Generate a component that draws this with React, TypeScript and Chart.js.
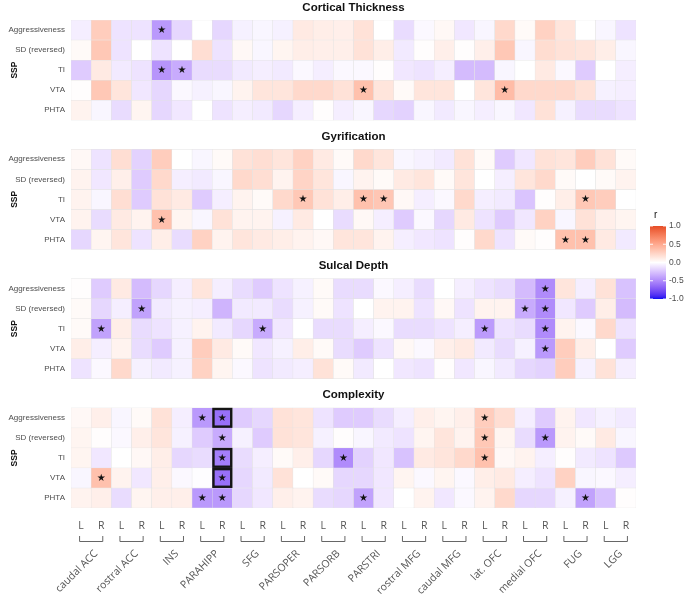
import React, { useEffect, useRef } from "react";
import { Chart, registerables } from "chart.js";

Chart.register(...registerables);

// ---------------- DATA ----------------
const PANELS = ["Cortical Thickness", "Gyrification", "Sulcal Depth", "Complexity"];
const SSP_ROWS = ["Aggressiveness", "SD (reversed)", "TI", "VTA", "PHTA"];
const REGIONS = [
  "caudal ACC", "rostral ACC", "INS", "PARAHIPP", "SFG", "PARSOPER", "PARSORB",
  "PARSTRI", "rostral MFG", "caudal MFG", "lat. OFC", "medial OFC", "FUG", "LGG",
];
const SIDES = ["L", "R"];
const COLUMNS = REGIONS.flatMap(() => SIDES);

// correlation r, rows = SSP_ROWS, columns = REGIONS x (L, R)
const corticalThickness = [
  [-0.07, 0.29, -0.12, -0.12, -0.44, -0.17, 0.0, -0.17, -0.06, -0.04, -0.06, 0.12, 0.1, 0.09, 0.17, 0.0, -0.15, -0.03, 0.04, -0.1, -0.04, 0.22, 0.03, 0.26, 0.15, 0.0, -0.04, -0.12],
  [0.03, 0.32, -0.12, 0.0, -0.12, 0.0, 0.19, -0.12, 0.04, -0.04, 0.06, 0.1, 0.09, 0.09, 0.17, 0.1, -0.09, 0.01, 0.09, 0.01, 0.09, 0.32, -0.04, 0.2, 0.17, 0.15, 0.1, -0.04],
  [-0.22, 0.12, -0.09, -0.12, -0.46, -0.36, -0.15, -0.15, -0.09, -0.07, -0.09, -0.03, -0.07, -0.03, -0.03, 0.01, -0.1, -0.12, -0.07, -0.29, -0.29, -0.04, 0.0, 0.12, -0.03, -0.22, 0.0, -0.07],
  [0.01, 0.32, 0.15, -0.1, -0.17, -0.03, -0.06, -0.04, 0.07, 0.15, 0.15, 0.22, 0.22, 0.17, 0.36, 0.15, 0.03, 0.15, 0.15, 0.0, 0.15, 0.39, 0.22, 0.22, 0.22, 0.17, -0.06, -0.07],
  [0.07, -0.04, -0.15, 0.06, -0.17, -0.1, 0.0, -0.12, -0.07, -0.09, -0.17, -0.07, 0.01, -0.07, -0.04, -0.17, -0.19, -0.04, -0.09, -0.04, -0.07, -0.04, -0.1, 0.17, -0.06, -0.15, -0.15, -0.12],
];
const gyrification = [
  [0.04, -0.12, 0.19, -0.19, 0.29, 0.0, -0.04, 0.03, 0.17, 0.19, 0.15, 0.26, 0.12, 0.03, 0.22, 0.15, -0.04, -0.06, -0.09, 0.17, 0.03, -0.22, -0.1, 0.17, 0.15, 0.29, 0.17, 0.03],
  [0.07, -0.1, 0.09, -0.22, 0.22, -0.07, -0.09, -0.04, 0.22, 0.19, 0.07, 0.25, 0.15, -0.04, 0.07, 0.03, 0.12, 0.15, 0.03, 0.15, 0.0, -0.07, 0.15, 0.22, 0.03, 0.0, 0.03, 0.07],
  [0.07, -0.04, 0.19, -0.22, 0.17, 0.12, -0.22, -0.07, 0.07, 0.03, 0.22, 0.32, 0.17, 0.1, 0.36, 0.33, 0.04, -0.07, -0.03, 0.22, -0.07, -0.09, -0.25, 0.01, 0.1, 0.32, 0.29, 0.0],
  [0.07, -0.15, 0.12, 0.07, 0.36, 0.06, -0.04, 0.17, 0.07, 0.07, -0.06, 0.12, 0.0, -0.15, 0.04, -0.07, -0.22, -0.03, -0.17, 0.12, -0.12, -0.22, -0.1, 0.26, -0.04, 0.17, 0.09, 0.06],
  [-0.17, 0.06, 0.15, -0.12, 0.1, -0.15, 0.26, 0.07, 0.15, 0.12, 0.1, 0.07, 0.04, 0.15, 0.15, 0.07, -0.07, -0.1, -0.12, 0.01, 0.22, -0.12, 0.03, 0.01, 0.36, 0.36, 0.12, -0.09],
];
const sulcalDepth = [
  [0.01, -0.22, 0.12, -0.29, -0.17, -0.07, 0.15, -0.07, -0.15, -0.22, -0.12, -0.06, 0.03, -0.15, -0.15, -0.03, -0.07, -0.15, 0.0, -0.07, -0.12, -0.15, -0.29, -0.5, 0.15, -0.07, 0.17, -0.26],
  [0.03, -0.17, -0.07, -0.4, -0.09, -0.06, -0.07, -0.32, -0.09, -0.09, -0.15, -0.06, 0.03, -0.12, 0.0, 0.07, 0.07, -0.12, 0.04, -0.12, 0.07, 0.07, -0.36, -0.5, -0.1, -0.22, 0.1, -0.29],
  [0.03, -0.4, 0.1, -0.15, -0.12, -0.06, 0.07, -0.09, -0.17, -0.36, -0.1, 0.0, -0.15, -0.15, -0.07, -0.03, -0.15, -0.15, -0.12, -0.07, -0.43, -0.12, -0.15, -0.5, 0.07, -0.03, 0.22, -0.12],
  [0.1, -0.07, 0.07, -0.15, -0.22, -0.06, 0.29, 0.12, 0.03, -0.1, -0.06, 0.1, 0.03, -0.15, -0.22, -0.12, 0.04, -0.03, 0.09, 0.12, -0.09, -0.15, -0.06, -0.44, 0.29, 0.1, 0.0, -0.22],
  [-0.12, -0.03, 0.22, -0.06, -0.09, -0.06, 0.26, 0.06, -0.03, -0.12, -0.09, -0.07, 0.17, 0.03, -0.09, 0.0, -0.1, -0.12, 0.01, -0.1, -0.04, -0.09, -0.17, -0.19, 0.29, -0.06, 0.17, -0.07],
];
const complexity = [
  [0.04, 0.09, -0.04, 0.03, 0.17, -0.07, -0.44, -0.62, -0.22, -0.17, 0.17, 0.15, -0.12, -0.22, -0.22, -0.15, -0.07, 0.09, 0.06, 0.09, 0.29, 0.19, -0.07, -0.22, 0.07, -0.1, -0.06, -0.09],
  [0.06, 0.01, -0.03, 0.09, 0.15, -0.06, -0.22, -0.36, -0.06, -0.22, 0.17, 0.15, -0.06, 0.01, -0.04, -0.09, -0.12, 0.06, 0.15, 0.07, 0.32, 0.06, -0.15, -0.44, 0.07, 0.03, 0.12, -0.04],
  [0.06, -0.1, 0.0, 0.04, 0.1, -0.17, -0.15, -0.56, -0.15, -0.07, 0.03, 0.09, -0.17, -0.5, -0.19, -0.1, -0.26, 0.12, 0.15, 0.22, 0.36, 0.04, 0.07, -0.07, 0.01, -0.09, -0.12, -0.23],
  [-0.04, 0.36, 0.07, -0.1, 0.09, -0.03, -0.01, -0.62, -0.17, -0.09, 0.17, 0.0, 0.03, -0.17, -0.17, -0.1, 0.06, -0.03, 0.06, -0.03, 0.1, 0.12, -0.07, -0.12, 0.26, -0.04, -0.03, -0.07],
  [0.07, 0.09, -0.15, 0.06, 0.09, 0.09, -0.44, -0.44, -0.17, -0.1, 0.09, 0.07, -0.15, -0.17, -0.4, -0.1, 0.0, 0.07, -0.1, -0.03, 0.07, 0.22, -0.17, -0.17, -0.06, -0.4, -0.26, 0.01],
];

// significant cells [row, column]
const corticalThicknessStars = [[0, 4], [2, 4], [2, 5], [3, 14], [3, 21]];
const gyrificationStars = [[2, 11], [2, 14], [2, 15], [2, 25], [3, 4], [4, 24], [4, 25]];
const sulcalDepthStars = [[0, 23], [1, 3], [1, 22], [1, 23], [2, 1], [2, 9], [2, 20], [2, 23], [3, 23]];
const complexityStars = [[0, 6], [0, 7], [0, 20], [1, 7], [1, 20], [1, 23], [2, 7], [2, 13], [2, 20], [3, 1], [3, 7], [4, 6], [4, 7], [4, 14], [4, 25]];
const complexityBoxes = [[0, 7], [2, 7], [3, 7]];

const COLORBAR_TICKS = [1.0, 0.5, 0.0, -0.5, -1.0];

const PANEL_VALUES = [corticalThickness, gyrification, sulcalDepth, complexity];
const PANEL_STARS = [corticalThicknessStars, gyrificationStars, sulcalDepthStars, complexityStars];

// ---------------- COLOUR (Lab gradient like ggplot gradient2) ----------------
const PANEL_STEP = 6.45;

function toLin(c: number) {
  c /= 255;
  return c <= 0.04045 ? c / 12.92 : Math.pow((c + 0.055) / 1.055, 2.4);
}
function toSrgb(v: number) {
  v = Math.max(0, Math.min(1, v));
  return 255 * (v <= 0.0031308 ? 12.92 * v : 1.055 * Math.pow(v, 1 / 2.4) - 0.055);
}
const XN = 0.95047, YN = 1.0, ZN = 1.08883;
function fLab(t: number) {
  return t > 0.008856 ? Math.cbrt(t) : 7.787 * t + 16 / 116;
}
function fInv(t: number) {
  return t > 0.206893 ? t * t * t : (t - 16 / 116) / 7.787;
}
function rgbToLab(rgb: number[]) {
  const [r, g, b] = rgb.map(toLin);
  const X = 0.4124 * r + 0.3576 * g + 0.1805 * b;
  const Y = 0.2126 * r + 0.7152 * g + 0.0722 * b;
  const Z = 0.0193 * r + 0.1192 * g + 0.9505 * b;
  const fx = fLab(X / XN), fy = fLab(Y / YN), fz = fLab(Z / ZN);
  return [116 * fy - 16, 500 * (fx - fy), 200 * (fy - fz)];
}
function labToRgb(lab: number[]) {
  const [L, a, bb] = lab;
  const fy = (L + 16) / 116;
  const fx = fy + a / 500;
  const fz = fy - bb / 200;
  const X = XN * fInv(fx), Y = YN * fInv(fy), Z = ZN * fInv(fz);
  const r = 3.2406 * X - 1.5372 * Y - 0.4986 * Z;
  const g = -0.9689 * X + 1.8758 * Y + 0.0415 * Z;
  const b = 0.0557 * X - 0.204 * Y + 1.057 * Z;
  return [toSrgb(r), toSrgb(g), toSrgb(b)].map((v) => Math.round(v));
}
const LAB_WHITE = rgbToLab([255, 255, 255]);
const LAB_RED = rgbToLab([230, 76, 38]);
const LAB_BLUE = rgbToLab([12, 12, 240]);

function colorFor(v: number) {
  const t = Math.min(1, Math.abs(v));
  const end = v < 0 ? LAB_BLUE : LAB_RED;
  const lab = LAB_WHITE.map((w, i) => w + (end[i] - w) * t);
  const [r, g, b] = labToRgb(lab);
  return `rgb(${r},${g},${b})`;
}

// ---------------- overlay plugin ----------------
const overlayPlugin = {
  id: "overlay",
  afterDatasetsDraw(chart: any) {
    const { ctx } = chart;
    const x = chart.scales.x;
    const y = chart.scales.y;
    const halfW = (x.getPixelForValue(1) - x.getPixelForValue(0)) / 2;
    ctx.save();
    ctx.fillStyle = "#111";
    ctx.font = '10px "DejaVu Sans"';
    ctx.textAlign = "center";
    ctx.textBaseline = "middle";
    PANEL_STARS.forEach((stars, p) =>
      stars.forEach(([r, c]) => {
        ctx.fillText("\u2605", x.getPixelForValue(c), y.getPixelForValue(p * PANEL_STEP + r + 0.5) + 0.5);
      })
    );
    ctx.lineWidth = 2.4;
    ctx.strokeStyle = "#151515";
    complexityBoxes.forEach(([r, c]) => {
      const top = y.getPixelForValue(3 * PANEL_STEP + r);
      const bot = y.getPixelForValue(3 * PANEL_STEP + r + 1);
      const cx = x.getPixelForValue(c);
      ctx.strokeRect(cx - halfW + 1.2, top + 1.2, 2 * halfW - 2.4, bot - top - 2.4);
    });
    ctx.restore();
  },
  afterDraw(chart: any) {
    const { ctx, chartArea } = chart;
    const x = chart.scales.x;
    const y = chart.scales.y;
    ctx.save();
    // panel titles and SSP labels
    PANELS.forEach((title, p) => {
      const top = y.getPixelForValue(p * PANEL_STEP);
      const bot = y.getPixelForValue(p * PANEL_STEP + 5);
      ctx.fillStyle = "#111";
      ctx.font = 'bold 11.5px "Liberation Sans", Arial, sans-serif';
      ctx.textAlign = "center";
      ctx.textBaseline = "middle";
      ctx.fillText(title, (chartArea.left + chartArea.right) / 2, top - 12.5);
      ctx.save();
      ctx.translate(15, (top + bot) / 2);
      ctx.rotate(-Math.PI / 2);
      ctx.font = 'bold 8.5px "Liberation Sans", Arial, sans-serif';
      ctx.fillText("SSP", 0, 0);
      ctx.restore();
    });
    // brackets and region names
    const b0 = chartArea.bottom + 28;
    const b1 = chartArea.bottom + 33;
    ctx.strokeStyle = "#666";
    ctx.lineWidth = 1;
    REGIONS.forEach((name, k) => {
      const xl = x.getPixelForValue(2 * k) - 2;
      const xr = x.getPixelForValue(2 * k + 1) + 2;
      ctx.beginPath();
      ctx.moveTo(xl + 0.5, b0);
      ctx.lineTo(xl + 0.5, b1 + 0.5);
      ctx.lineTo(xr - 0.5, b1 + 0.5);
      ctx.lineTo(xr - 0.5, b0);
      ctx.stroke();
      const cx = (xl + xr) / 2;
      ctx.save();
      ctx.translate(cx + 5, b1 + 11);
      ctx.rotate(-Math.PI / 4);
      ctx.fillStyle = "#555";
      ctx.font = '10.5px "Open Sans", sans-serif';
      ctx.textAlign = "right";
      ctx.textBaseline = "middle";
      ctx.fillText(name, 0, 0);
      ctx.restore();
    });
    // colour bar legend
    const cbX = 650, cbW = 16, cbTop = 226, cbBot = 299;
    const grad = ctx.createLinearGradient(0, cbTop, 0, cbBot);
    for (let i = 0; i <= 40; i++) {
      const v = 1 - i / 20;
      grad.addColorStop(i / 40, colorFor(v));
    }
    ctx.fillStyle = grad;
    ctx.fillRect(cbX, cbTop, cbW, cbBot - cbTop);
    ctx.fillStyle = "#111";
    ctx.font = '10px "Liberation Sans", Arial, sans-serif';
    ctx.textAlign = "left";
    ctx.textBaseline = "middle";
    ctx.fillText("r", 654, 215);
    ctx.font = '8.5px "Liberation Sans", Arial, sans-serif';
    ctx.fillStyle = "#4d4d4d";
    ctx.strokeStyle = "rgba(255,255,255,0.9)";
    COLORBAR_TICKS.forEach((v) => {
      const py = cbTop + ((1 - v) / 2) * (cbBot - cbTop);
      ctx.fillText(v.toFixed(1), cbX + cbW + 3, py);
      ctx.beginPath();
      ctx.moveTo(cbX, py);
      ctx.lineTo(cbX + 3, py);
      ctx.moveTo(cbX + cbW - 3, py);
      ctx.lineTo(cbX + cbW, py);
      ctx.stroke();
    });
    ctx.restore();
  },
};

export default function App() {
  const ref = useRef<HTMLCanvasElement | null>(null);
  useEffect(() => {
    if (!ref.current) return;
    const datasets: any[] = [];
    PANEL_VALUES.forEach((panel, p) => {
      panel.forEach((rowVals, r) => {
        datasets.push({
          label: `${PANELS[p]} - ${SSP_ROWS[r]}`,
          data: rowVals.map(() => [p * PANEL_STEP + r, p * PANEL_STEP + r + 1]),
          backgroundColor: rowVals.map((v) => colorFor(v)),
          borderColor: "#e3e3e3",
          borderWidth: 0.5,
          borderSkipped: false,
          categoryPercentage: 1,
          barPercentage: 1,
        });
      });
    });
    const chart = new Chart(ref.current, {
      type: "bar",
      data: { labels: COLUMNS, datasets },
      options: {
        animation: false,
        responsive: false,
        events: [],
        layout: { padding: { top: 20, right: 49, bottom: 0, left: 0 } },
        plugins: { legend: { display: false }, tooltip: { enabled: false }, title: { display: false } },
        scales: {
          x: {
            type: "category",
            stacked: true,
            offset: true,
            grid: { display: false, drawTicks: false },
            border: { display: false },
            ticks: {
              autoSkip: false,
              maxRotation: 0,
              minRotation: 0,
              padding: 12,
              color: "#555",
              font: { family: "Open Sans", size: 10.5 },
            },
            afterFit: (s: any) => {
              s.height = 89;
            },
          },
          y: {
            type: "linear",
            reverse: true,
            stacked: false,
            min: 0,
            max: 3 * PANEL_STEP + 5,
            grid: { display: false, drawTicks: false },
            border: { display: false },
            afterBuildTicks: (s: any) => {
              s.ticks = PANELS.flatMap((_, p) => SSP_ROWS.map((_, r) => ({ value: p * PANEL_STEP + r + 0.5 })));
            },
            afterFit: (s: any) => {
              s.width = 71;
            },
            ticks: {
              autoSkip: false,
              padding: 6,
              color: "#4d4d4d",
              font: { family: "Liberation Sans", size: 8 },
              callback: (_v: any, i: number) => SSP_ROWS[i % SSP_ROWS.length],
            },
          },
        } as any,
      },
      plugins: [overlayPlugin],
    });
    return () => chart.destroy();
  }, []);
  return (
    <canvas
      ref={ref}
      width={685}
      height={597}
      style={{ position: "absolute", left: 0, top: 0, width: 685, height: 597, display: "block" }}
    />
  );
}
